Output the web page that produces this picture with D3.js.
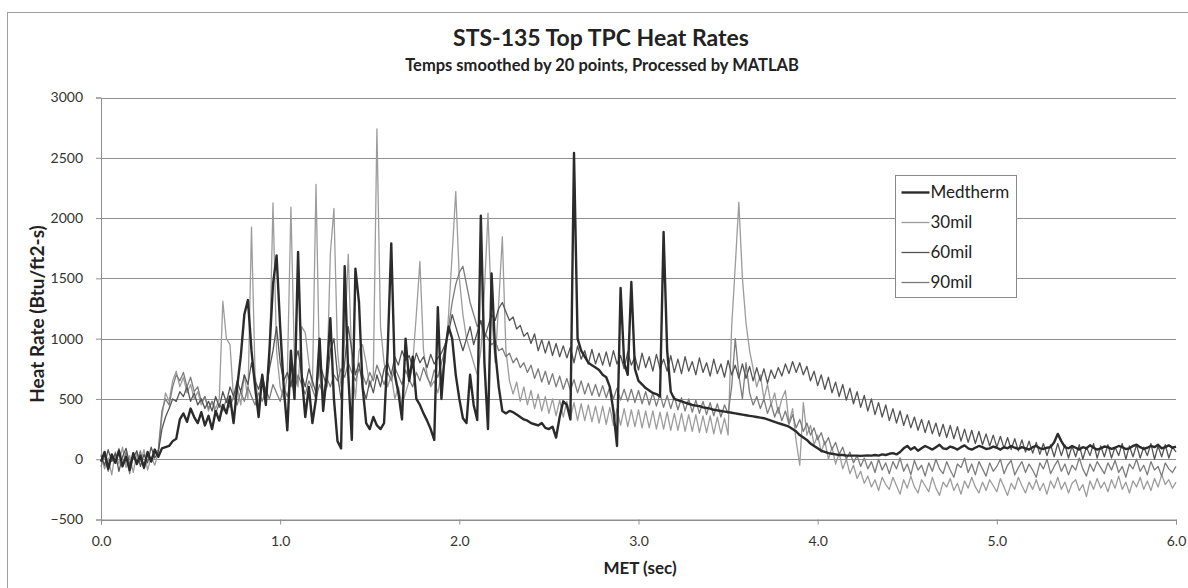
<!DOCTYPE html>
<html>
<head>
  <meta charset="utf-8">
  <title>STS-135 Top TPC Heat Rates</title>
  <style>
    body { margin: 0; background: #fff; font-family: 'Lato', 'Liberation Sans', sans-serif; }
    .grid line { stroke: #8f8f8f; stroke-width: 1; }
    .axis path, .axis line { stroke: #8f8f8f; }
    .axis text { fill: #333; font-size: 14px; font-family: 'Lato', sans-serif; }
    .series { fill: none; stroke-linejoin: round; }
  </style>
</head>
<body>
  <div id="chart"></div>
  <script src="https://d3js.org/d3.v7.min.js"></script>
  <script>
    var width = 1188,
      height = 588;

    // samples every 0.02 s, MET 0.0 .. 6.0
    var stepSec = 0.02;

    var medtherm = [
      -20, 60, -80, 40, -30, 70, -60, 20, -90, 50,
      -40, 30, -70, 60, -20, 80, 20, 90, 100, 110,
      150, 170, 330, 380, 310, 420, 350, 300, 390, 280,
      360, 250, 400, 320, 450, 380, 520, 300, 600, 850,
      1200, 1320, 900, 600, 350, 700, 450, 900, 1450, 1690,
      1100, 600, 240, 900, 500, 1720, 700, 350, 600, 300,
      500, 1000, 400, 700, 1170, 500, 150, 90, 1600, 700,
      160, 1580, 1300, 600, 300, 250, 350, 280, 250, 300,
      900, 1790, 700, 550, 330, 1000, 650, 850, 500, 450,
      380, 320, 250, 160, 1260, 500, 900, 1100, 1000, 700,
      500, 340, 300, 700, 450, 325, 2020, 800, 250, 1540,
      900, 600, 400, 380, 400, 390, 370, 350, 330, 320,
      300, 290, 280, 300, 260, 250, 270, 180, 350, 480,
      450, 330, 2540, 1000, 900, 850, 800, 780, 760, 740,
      700, 680, 600, 400, 110, 1420, 800, 700, 1470, 750,
      650, 620, 590, 570, 550, 540, 520, 1885, 900, 560,
      500, 490, 480, 470, 460, 450, 445, 440, 430, 425,
      420, 410, 405, 400, 395, 390, 385, 380, 375, 370,
      365, 360, 355, 350, 345, 340, 330, 320, 310, 300,
      290, 280, 270, 250, 230, 200, 180, 160, 130, 110,
      90, 70, 60, 50, 45, 40, 35, 35, 30, 30,
      30, 30, 28, 30, 32, 30, 35, 30, 40, 35,
      45, 50, 40, 60, 90, 110, 80, 100, 70, 90,
      110, 95, 80, 100, 120, 90, 85, 105, 95, 80,
      100, 115, 90, 80, 95, 110, 100, 85, 90, 105,
      95, 80, 100, 90, 110, 95, 85, 100, 90, 80,
      100, 110, 90, 85, 95, 100, 140, 210, 150, 100,
      90, 110, 95, 80, 100, 90, 115, 95, 80, 90,
      105, 100, 85, 95, 110, 100, 85, 90, 110, 120,
      100, 85, 95, 110, 100, 120, 90, 100, 115, 95,
      105
    ];

    var mil30 = [
      40, -80, 10, -130, 60, -40, 100, -70, 30, -110,
      50, -20, 80, -90, 20, -50, 60, 350, 550, 480,
      650, 730, 600, 680, 550, 620, 500, 560, 450, 520,
      400, 480, 420, 500, 1310, 1000, 950, 500, 600, 450,
      700, 500, 1925, 700, 450, 650, 500, 800, 2125, 900,
      600, 500, 700, 2090, 800, 600, 1100, 1050, 800, 600,
      2280, 700, 500, 600, 1700, 2080, 900, 600, 1000, 1700,
      800, 500, 900, 950, 800, 600, 700, 2740, 1100, 800,
      600, 700, 500, 600, 450, 550, 650, 800, 1200, 1640,
      900, 700, 600, 650, 550, 700, 800, 1200, 1700, 2220,
      1500, 1200, 1000, 900, 800, 700, 900, 1400, 2040, 1200,
      800, 1300, 1845, 900, 650, 540, 640, 480, 600, 450,
      570, 420, 540, 400, 520, 380, 500, 360, 490, 350,
      480, 340, 470, 320, 460, 320, 450, 310, 440, 300,
      440, 290, 430, 280, 420, 280, 420, 270, 410, 270,
      410, 260, 400, 260, 400, 250, 390, 250, 390, 240,
      380, 240, 380, 230, 370, 230, 370, 220, 360, 220,
      360, 210, 350, 210, 340, 200, 1100, 1600, 2130, 1500,
      1130, 900, 750, 600, 700, 500, 620, 450, 550, 380,
      500, 570, 300, 420, 150, -50, 470, 200, 280, 120,
      200, 60, 150, 0, 100, -40, 50, -80, 0, -120,
      -50, -160, -100, -200, -140, -230, -170, -260, -150, -210,
      -250, -150, -220, -290, -170, -240, -140, -230, -280, -170,
      -220, -270, -150, -240, -300, -190, -230, -160, -260, -200,
      -290, -180, -240, -150, -230, -280, -190, -260, -170, -220,
      -270, -160, -230, -300, -200, -250, -150, -220, -280, -190,
      -250, -170, -260, -200, -290, -180, -240, -150, -250, -190,
      -280, -200, -170, -260, -210, -310, -180, -250, -160, -240,
      -190, -270, -170, -240, -140, -250, -190, -280, -180, -230,
      -150, -250, -180, -260, -160, -230, -130, -210, -170, -240,
      -190
    ];

    var mil60 = [
      30, -50, 80, -20, 50, -100, 20, 90, -40, 10,
      70, -60, 40, -30, 100, 10, 60, 250, 350, 420,
      500, 480, 560, 520, 600, 480, 550, 450, 500, 420,
      480, 400, 520, 430, 560, 470, 600, 520, 650, 560,
      700, 620, 800, 650, 580, 700, 560, 750, 900, 1100,
      800, 650, 720, 600, 800, 900, 700, 600, 750, 650,
      550, 800, 700, 600, 900, 1000, 700, 500, 800, 1100,
      900, 700, 800, 600, 500, 650, 550, 700, 600, 750,
      800, 700, 850, 780, 900, 820, 860, 760, 880, 800,
      850, 760, 870, 790, 840, 880, 950, 1050, 1200, 1100,
      1000, 900, 1000, 1100, 950, 1050, 1150, 1000, 1100, 1200,
      1150, 1250, 1300, 1220, 1150, 1180, 1080, 1110, 1020, 1050,
      960, 1040, 900, 990, 880, 980, 860, 960, 850, 940,
      840, 930, 800, 940, 830, 900, 790, 910, 790, 880,
      780, 890, 770, 900, 790, 860, 750, 890, 780, 850,
      740, 880, 760, 850, 730, 870, 750, 830, 730, 860,
      720, 830, 710, 850, 730, 810, 700, 840, 720, 800,
      690, 830, 710, 790, 680, 820, 700, 780, 670, 790,
      670, 770, 650, 760, 650, 750, 630, 740, 670, 760,
      690, 790, 710, 810, 720, 800, 700, 770, 650, 730,
      610, 700, 580, 680, 550, 640, 520, 620, 490, 590,
      460, 560, 430, 530, 400, 500, 370, 470, 350, 450,
      320, 420, 300, 400, 280, 370, 260, 350, 240, 330,
      220, 320, 210, 300, 190, 290, 180, 280, 170, 270,
      150, 250, 140, 240, 130, 230, 120, 210, 110, 200,
      100, 190, 90, 180, 80, 170, 70, 160, 60, 150,
      50, 140, 40, 130, 30, 120, 20, 130, 30, 120,
      10, 110, 20, 120, 0, 100, 30, 130, 10, 110,
      20, 120, 10, 100, 30, 130, 0, 110, 20, 120,
      10, 100, 30, 130, 0, 110, 20, 120, 10, 100,
      60
    ];

    var mil90 = [
      -60, 40, -100, 20, -30, 90, -50, 60, -120, 30,
      -20, 70, -80, 50, -10, 40, 80, 400, 500, 450,
      600, 700, 650, 720, 600, 680, 560, 600, 480, 520,
      420, 480, 380, 460, 400, 500, 430, 520, 450, 560,
      480, 600, 520, 450, 550, 480, 580, 500, 620, 550,
      480, 600, 520, 650, 560, 700, 620, 540, 650, 580,
      500, 620, 540, 680, 600, 700, 650, 750, 680, 800,
      720, 650, 750, 700, 620, 720, 650, 780, 700, 620,
      720, 650, 760, 690, 620, 740, 660, 600, 720, 650,
      760, 680, 620, 740, 680, 800, 900, 1100, 1300, 1450,
      1550, 1600, 1450, 1300, 1200, 1100, 1150, 1050, 1000, 950,
      980, 900, 920, 850, 880, 800, 840, 760, 800, 720,
      780, 670, 750, 640, 730, 620, 710, 600, 690, 580,
      670, 570, 660, 550, 650, 540, 630, 530, 620, 520,
      610, 510, 600, 500, 590, 490, 580, 480, 580, 470,
      570, 460, 560, 450, 550, 440, 540, 430, 530, 420,
      520, 410, 510, 400, 500, 390, 490, 380, 480, 370,
      470, 360, 460, 350, 450, 380, 600, 1000, 700, 500,
      800, 550, 450, 520, 420, 500, 380, 460, 350, 430,
      320, 400, 290, 370, 260, 330, 230, 300, 200, 260,
      160, 220, 120, 180, 80, 140, 40, 100, 0, 60,
      -30, 30, -60, 10, -80, -20, -110, 0, -90, -30,
      -120, -20, -80, 10, -100, -40, -130, -10, -90, -50,
      -140, -30, -100, 0, -80, -120, -20, -90, -150, -40,
      -70, 10, -110, -40, -130, -20, -80, -140, -30, -100,
      -60, 0, -120, -50, -10, -130, -70, -20, -110, -40,
      -90, -150, -30, -80, 0, -120, -60, -10, -100, -40,
      -130, -50, -90, 10, -80, -140, -40, -100, -20, -70,
      -120, -30, -90, -10, -110, -60, -150, -40, -80, 0,
      -100, -50, -130, -20, -90, -60, -140, -30, -80, -110,
      -60
    ];

    var seriesNames = ["Medtherm", "30mil", "60mil", "90mil"];
    var yTicks = [-500, 0, 500, 1000, 1500, 2000, 2500, 3000];
    var xTicks = [0, 1, 2, 3, 4, 5, 6];

    var styles = {
      "Medtherm": { color: "#2b2b2b", w: 2.4 },
      "30mil": { color: "#9c9c9c", w: 1.3 },
      "60mil": { color: "#545454", w: 1.3 },
      "90mil": { color: "#7c7c7c", w: 1.3 }
    };

    var plot = { left: 101, right: 1176, top: 97.5, bottom: 519.5 };

    var x = d3.scaleLinear().domain([0, 6]).range([plot.left, plot.right]);
    var y = d3.scaleLinear().domain([-500, 3000]).range([plot.bottom, plot.top]);

    var svg = d3.select("#chart").append("svg")
      .attr("width", width)
      .attr("height", height);

    // outer chart frame
    svg.append("rect")
      .attr("x", 7.5).attr("y", 12.5)
      .attr("width", 1200).attr("height", 600)
      .attr("fill", "none").attr("stroke", "#a0a0a0");

    // horizontal gridlines
    svg.append("g").attr("class", "grid")
      .selectAll("line")
      .data(yTicks)
      .enter().append("line")
      .attr("x1", plot.left).attr("x2", plot.right)
      .attr("y1", function(d) { return Math.round(y(d)) + 0.5; })
      .attr("y2", function(d) { return Math.round(y(d)) + 0.5; });

    svg.append("g")
      .attr("class", "axis")
      .attr("transform", "translate(" + plot.left + ",0)")
      .call(d3.axisLeft(y).tickValues(yTicks).tickSize(5).tickPadding(13).tickFormat(d3.format("d")));

    svg.append("g")
      .attr("class", "axis")
      .attr("transform", "translate(0," + plot.bottom + ")")
      .call(d3.axisBottom(x).tickValues(xTicks).tickSize(5).tickPadding(12).tickFormat(d3.format(".1f")));

    var data = {
      "Medtherm": medtherm,
      "30mil": mil30,
      "60mil": mil60,
      "90mil": mil90
    };

    var line = d3.line()
      .x(function(d, i) { return x(i * stepSec); })
      .y(function(d) { return y(d); });

    // light series first, Medtherm on top
    ["30mil", "90mil", "60mil", "Medtherm"].forEach(function(name) {
      svg.append("path")
        .attr("class", "series")
        .attr("d", line(data[name]))
        .attr("stroke", styles[name].color)
        .attr("stroke-width", styles[name].w);
    });

    // titles
    svg.append("text")
      .attr("x", 601).attr("y", 46)
      .attr("text-anchor", "middle")
      .style("font-weight", "bold").style("font-size", "23px").style("fill", "#222")
      .text("STS-135 Top TPC Heat Rates");

    svg.append("text")
      .attr("x", 602).attr("y", 71)
      .attr("text-anchor", "middle")
      .style("font-weight", "bold").style("font-size", "16.5px").style("fill", "#222")
      .text("Temps smoothed by 20 points, Processed by MATLAB");

    svg.append("text")
      .attr("x", 640).attr("y", 574)
      .attr("text-anchor", "middle")
      .style("font-weight", "bold").style("font-size", "17px").style("fill", "#222")
      .text("MET (sec)");

    svg.append("text")
      .attr("transform", "translate(44,314) rotate(-90)")
      .attr("text-anchor", "middle")
      .style("font-weight", "bold").style("font-size", "19px").style("fill", "#222")
      .text("Heat Rate (Btu/ft2-s)");

    // legend
    var lg = svg.append("g").attr("transform", "translate(895.5,175.5)");
    lg.append("rect")
      .attr("width", 121).attr("height", 122)
      .attr("fill", "#fff").attr("stroke", "#8a8a8a");

    var item = lg.selectAll("g.item")
      .data(seriesNames)
      .enter().append("g")
      .attr("class", "item")
      .attr("transform", function(d, i) { return "translate(0," + (17 + i * 30) + ")"; });

    item.append("line")
      .attr("x1", 6).attr("x2", 34)
      .attr("stroke", function(d) { return styles[d].color; })
      .attr("stroke-width", function(d) { return styles[d].w; });

    item.append("text")
      .attr("x", 35).attr("dy", "0.35em")
      .style("font-size", "17px").style("fill", "#222")
      .text(function(d) { return d; });
  </script>
</body>
</html>
